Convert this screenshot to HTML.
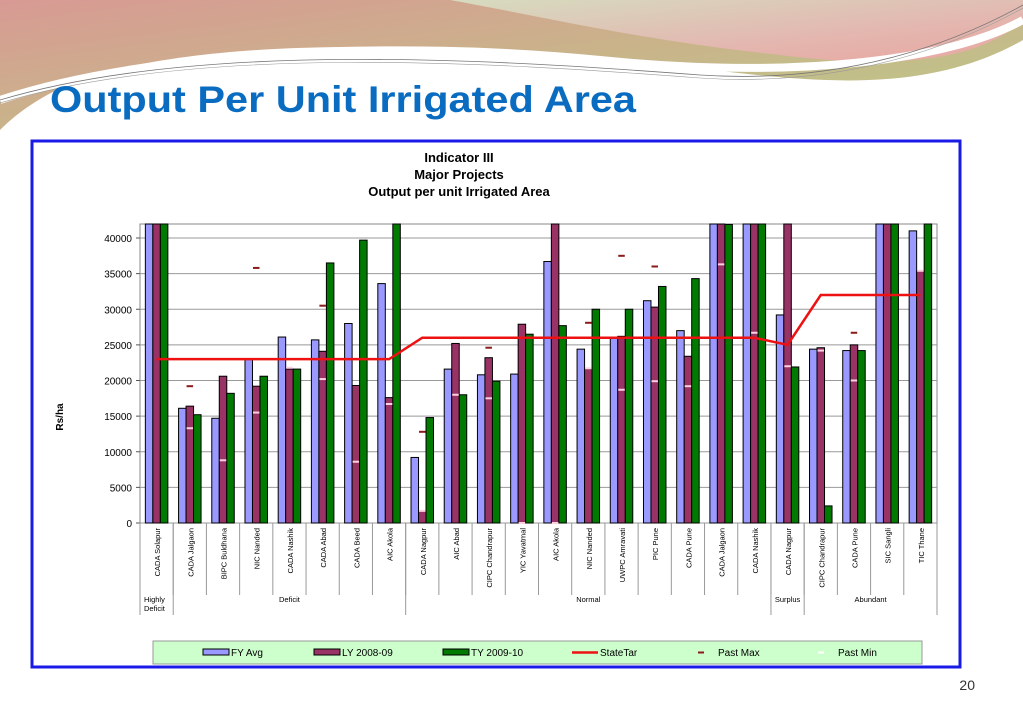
<!DOCTYPE html>
<html><head><meta charset="utf-8"><style>
html,body{margin:0;padding:0;background:#fff;}
svg{display:block;font-family:"Liberation Sans",Arial,sans-serif;}
</style></head><body>
<svg id="s" width="1023" height="708" viewBox="0 0 1023 708" xmlns="http://www.w3.org/2000/svg">
<defs>
<linearGradient id="g1" x1="0" y1="0" x2="1" y2="1"><stop offset="0" stop-color="#d89a94"/><stop offset="0.5" stop-color="#c9b48a"/><stop offset="1" stop-color="#b9cc88"/></linearGradient>
<linearGradient id="g2" x1="0" y1="0" x2="1" y2="1"><stop offset="0" stop-color="#d6dcc0"/><stop offset="0.6" stop-color="#e3b8b0"/><stop offset="1" stop-color="#e8a6a0"/></linearGradient>
</defs>
<g>
<path d="M0,0 L1023,0 L1023,40 C900,110 750,70 620,60 C400,40 200,40 80,80 C40,95 15,115 0,130 Z" fill="url(#g1)"/>
<path d="M450,0 L1023,0 L1023,20 C980,60 900,70 780,55 C640,40 560,20 450,0 Z" fill="url(#g2)"/>
<path d="M0,100 C150,50 400,40 600,60 C800,80 950,60 1023,20" fill="none" stroke="#fff" stroke-width="8"/>
<path d="M0,100 C200,40 500,60 700,75 C850,85 960,40 1023,5" fill="none" stroke="#777" stroke-width="0.8"/>
<path d="M0,103 C200,43 500,63 700,78 C850,88 960,43 1023,8" fill="none" stroke="#999" stroke-width="0.6"/>
</g>
<text x="50" y="112" font-size="37" font-weight="bold" fill="#0a6cc0" textLength="586" lengthAdjust="spacingAndGlyphs">Output Per Unit Irrigated Area</text>
<rect x="32" y="141" width="928" height="526" fill="#fff" stroke="#1a1ae6" stroke-width="3"/>
<text x="459" y="162" font-size="13" font-weight="bold" text-anchor="middle">Indicator III</text>
<text x="459" y="179" font-size="13" font-weight="bold" text-anchor="middle">Major Projects</text>
<text x="459" y="196" font-size="13" font-weight="bold" text-anchor="middle">Output per unit Irrigated Area</text>
<text transform="translate(63,417) rotate(-90)" font-size="10" font-weight="bold" text-anchor="middle">Rs/ha</text>
<g id="grid"></g><g id="bars"></g><g id="marks"></g><g id="cats"></g>
<rect x="153" y="641" width="769" height="23" fill="#ccffcc" stroke="#999"/>
<g id="legend"></g>
<text x="975" y="690" font-size="14" text-anchor="end" fill="#333">20</text>
</svg>
<script>
const categories=["CADA Solapur","CADA Jalgaon","BIPC Buldhana","NIC Nanded","CADA Nashik","CADA Abad","CADA Beed","AIC Akola","CADA Nagpur","AIC Abad","CIPC Chandrapur","YIC Yavatmal","AIC Akola","NIC Nanded","UWPC Amravati","PIC Pune","CADA Pune","CADA Jalgaon","CADA Nashik","CADA Nagpur","CIPC Chandrapur","CADA Pune","SIC Sangli","TIC Thane"];
const fyAvg=[45000,16100,14700,23000,26100,25700,28000,33600,9200,21600,20800,20900,36700,24400,26000,31200,27000,45000,45000,29200,24400,24200,45000,41000];
const ly0809=[45000,16400,20600,19200,21600,24100,19300,17600,1700,25200,23200,27900,45000,21600,26200,30300,23400,45000,45000,45000,24600,25000,45000,35400];
const ty0910=[45000,15200,18200,20600,21600,36500,39700,45000,14800,18000,19900,26500,27700,30000,30000,33200,34300,41900,45000,21900,2400,24200,45000,45000];
const stateTar=[23000,23000,23000,23000,23000,23000,23000,23000,26000,26000,26000,26000,26000,26000,26000,26000,26000,26000,26000,25000,32000,32000,32000,32000];
const pastMax=[null,19200,null,35800,null,30500,null,null,12800,null,24600,null,null,28100,37500,36000,null,null,null,null,null,26700,null,null];
const pastMin=[null,13300,8800,15500,21800,20200,8600,16700,1700,18000,17500,0,0,21700,18700,19900,19200,36300,26700,22000,24200,20000,null,35400];
const yTicks=[0,5000,10000,15000,20000,25000,30000,35000,40000];
const groups=[["Highly|Deficit",1],["Deficit",7],["Normal",11],["Surplus",1],["Abundant",4]];
const NS="http://www.w3.org/2000/svg";
const X0=140,X1=937,Y0=523,YT=224,n=categories.length,cw=(X1-X0)/n;
const y=v=>Math.max(YT,Y0-v*285/40000);
const xc=i=>X0+cw*(i+0.5);
function mk(p,t,a){const e=document.createElementNS(NS,t);for(const k in a)e.setAttribute(k,a[k]);document.getElementById(p).appendChild(e);return e;}
let e;
e=mk("grid","rect",{x:X0,y:YT,width:X1-X0,height:Y0-YT,fill:"#fff",stroke:"#888"});

yTicks.forEach(t=>{
 e=mk("grid","line",{x1:X0,x2:X1,y1:y(t),y2:y(t),stroke:"#999","stroke-width":1});
 
 e=mk("grid","text",{x:X0-8,y:y(t)+4,"font-size":10,"text-anchor":"end"});e.textContent=t;
 
 mk("grid","line",{x1:X0-4,x2:X0,y1:y(t),y2:y(t),stroke:"#555"});
});
const series=[[fyAvg,"#9999ff","bar-fy-avg"],[ly0809,"#993366","bar-ly-2008-09"],[ty0910,"#007a00","bar-ty-2009-10"]];
const bw=7.5;
categories.forEach((c,i)=>{
 const s=X0+cw*i+(cw-3*bw)/2;
 series.forEach((sr,k)=>{
  e=mk("bars","rect",{x:s+k*bw,y:y(sr[0][i]),width:bw,height:Y0-y(sr[0][i]),fill:sr[1],stroke:"#000","stroke-width":1});
  
 });
 if(pastMax[i]!==null){e=mk("marks","rect",{x:s+bw+0.5,y:y(pastMax[i])-1,width:6.5,height:2,fill:"#8b1a1a"});
  }
 if(pastMin[i]!==null){e=mk("marks","rect",{x:s+bw+0.5,y:y(pastMin[i])-1,width:6.5,height:2,fill:"#ffd0e0"});
  }
 e=mk("cats","text",{transform:`translate(${xc(i)+3.5},528) rotate(-90)`,"font-size":7.5,"text-anchor":"end"});e.textContent=c;
 
 mk("cats","line",{x1:X0+cw*i,x2:X0+cw*i,y1:Y0,y2:595,stroke:"#999"});
});
mk("cats","line",{x1:X1,x2:X1,y1:Y0,y2:615,stroke:"#999"});
e=mk("marks","polyline",{points:stateTar.map((v,i)=>xc(i)+","+y(v)).join(" "),fill:"none",stroke:"#ee1111","stroke-width":2.5});

let gi=0;
groups.forEach(g=>{
 const gx0=X0+cw*gi,gx1=X0+cw*(gi+g[1]);
 mk("cats","line",{x1:gx0,x2:gx0,y1:Y0,y2:615,stroke:"#999"});
 const lines=g[0].split("|");
 lines.forEach((l,j)=>{
  const tx=lines.length>1?gx0+4:(gx0+gx1)/2;
  e=mk("cats","text",{x:tx,y:602+j*9-(lines.length>1?0:0),"font-size":7.5,"text-anchor":lines.length>1?"start":"middle"});e.textContent=l;
  
 });
 gi+=g[1];
});
const leg=[["FY Avg",203,"#9999ff","box"],["LY 2008-09",314,"#993366","box"],["TY 2009-10",443,"#007a00","box"],["StateTar",572,"#ee1111","line"],["Past Max",698,"#8b1a1a","dash"],["Past Min",818,"#ffffff","dash"]];
leg.forEach(l=>{
 if(l[3]==="box")mk("legend","rect",{x:l[1],y:649,width:26,height:6,fill:l[2],stroke:"#000"});
 else if(l[3]==="line")mk("legend","line",{x1:l[1],x2:l[1]+26,y1:652.5,y2:652.5,stroke:l[2],"stroke-width":2.5});
 else mk("legend","rect",{x:l[1],y:651.5,width:6,height:2,fill:l[2]});
 e=mk("legend","text",{x:l[3]==="dash"?l[1]+20:l[1]+28,y:656,"font-size":10});e.textContent=l[0];
 
});
</script>
</body></html>
